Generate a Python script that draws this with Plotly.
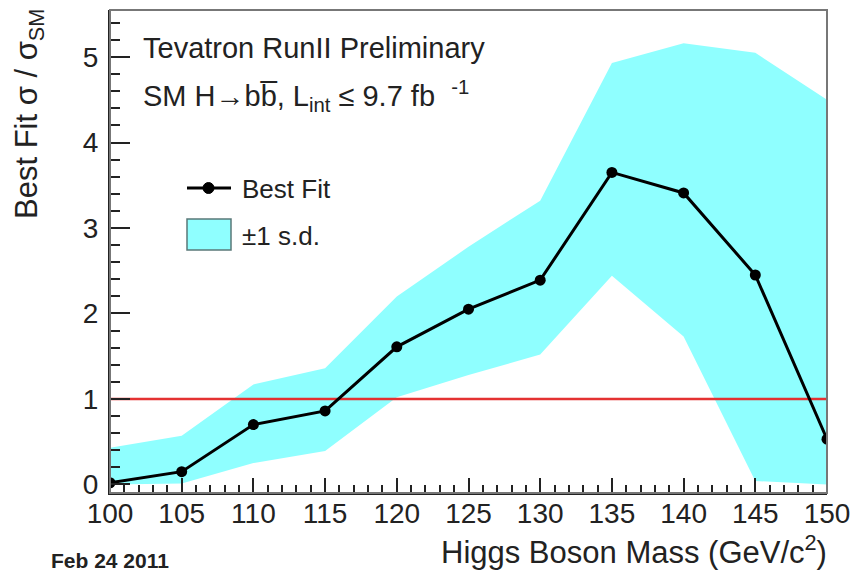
import plotly.graph_objects as go

mass = [100, 105, 110, 115, 120, 125, 130, 135, 140, 145, 150]
best_fit = [0.02, 0.15, 0.70, 0.86, 1.61, 2.05, 2.39, 3.65, 3.41, 2.45, 0.53]
band_up = [0.43, 0.57, 1.17, 1.36, 2.20, 2.78, 3.32, 4.93, 5.16, 5.05, 4.50]
band_lo = [0.00, 0.01, 0.25, 0.39, 1.02, 1.28, 1.52, 2.44, 1.73, 0.04, 0.00]
x_ticks = [100, 105, 110, 115, 120, 125, 130, 135, 140, 145, 150]
y_ticks = [0, 1, 2, 3, 4, 5]

FONT = "Liberation Sans, Arial, Helvetica, sans-serif"
CYAN = "rgb(143,255,255)"
INK = "#222"

# plot area in pixels (for placing decorations)
L, R, T, B = 110, 827, 10, 493


def px(xp):
    return (xp - L) / (R - L)


def py(yp):
    return (B - yp) / (B - T)


fig = go.Figure()

fig.add_trace(go.Scatter(
    x=mass + mass[::-1], y=band_up + band_lo[::-1],
    fill="toself", fillcolor=CYAN, line=dict(width=0),
    mode="lines", showlegend=False, hoverinfo="skip"))

fig.add_trace(go.Scatter(
    x=[mass[0], mass[-1]], y=[1, 1], mode="lines",
    line=dict(color="rgb(228,50,50)", width=2.5), showlegend=False))

fig.add_trace(go.Scatter(
    x=mass, y=best_fit, mode="lines+markers", showlegend=False,
    line=dict(color="black", width=3),
    marker=dict(color="black", size=11, symbol="circle")))

axis_font = dict(family=FONT, size=28, color=INK)

fig.update_xaxes(
    range=[100, 150], tickvals=x_ticks, ticks="inside", ticklen=15,
    tickwidth=1.5, tickcolor=INK, showgrid=False, zeroline=False,
    showline=True, linecolor=INK, linewidth=2, automargin=False,
    tickfont=axis_font, ticklabelstandoff=-6,
    minor=dict(dtick=1, ticks="inside", ticklen=8, tickwidth=1.5, tickcolor=INK))
fig.update_yaxes(
    range=[-0.1, 5.55], tickvals=y_ticks, ticks="inside", ticklen=20,
    tickwidth=1.5, tickcolor=INK, showgrid=False, zeroline=False,
    showline=True, linecolor=INK, linewidth=2, automargin=False,
    tickfont=axis_font, ticklabelstandoff=4,
    minor=dict(dtick=0.2, ticks="inside", ticklen=10, tickwidth=1.5, tickcolor=INK))

fig.add_shape(type="rect", xref="paper", yref="paper", x0=0, x1=1, y0=0, y1=1,
              line=dict(color="#777", width=2), layer="above")

# legend (drawn as decorations)
fig.add_shape(type="line", xref="paper", yref="paper",
              x0=px(187), x1=px(231), y0=py(188), y1=py(188),
              line=dict(color="black", width=3))
fig.add_shape(type="circle", xref="paper", yref="paper",
              x0=px(203), x1=px(214), y0=py(193.5), y1=py(182.5),
              line=dict(color="black", width=1), fillcolor="black")
fig.add_shape(type="rect", xref="paper", yref="paper",
              x0=px(187), x1=px(231), y0=py(250), y1=py(219),
              line=dict(color="rgb(90,120,120)", width=1.5), fillcolor=CYAN)

leg_font = dict(family=FONT, size=26, color=INK)
fig.add_annotation(xref="paper", yref="paper", x=px(240), y=py(189), xanchor="left",
                   yanchor="middle", showarrow=False, font=leg_font, text="Best Fit")
fig.add_annotation(xref="paper", yref="paper", x=px(240), y=py(236), xanchor="left",
                   yanchor="middle", showarrow=False, font=leg_font, text="±1 s.d.")

hdr_font = dict(family=FONT, size=29, color=INK)
fig.add_annotation(xref="paper", yref="paper", x=px(141), y=py(48), xanchor="left",
                   yanchor="middle", showarrow=False, font=hdr_font,
                   text="Tevatron RunII Preliminary")
fig.add_annotation(xref="paper", yref="paper", x=px(141), y=py(96), xanchor="left",
                   yanchor="middle", showarrow=False, font=hdr_font,
                   text="SM H→bb\u0305, L<sub>int</sub> ≤ 9.7 fb  <sup>-1</sup>")
fig.add_annotation(xref="paper", yref="paper", x=px(829), y=py(550), xanchor="right",
                   yanchor="middle", showarrow=False,
                   font=dict(family=FONT, size=31, color=INK),
                   text="Higgs Boson Mass (GeV/c<sup>2</sup>)")
fig.add_annotation(xref="paper", yref="paper", x=px(29), y=py(114), xanchor="center",
                   yanchor="middle", showarrow=False, textangle=-90,
                   font=dict(family=FONT, size=31, color=INK),
                   text="Best Fit σ / σ<sub>SM</sub>")
fig.add_annotation(xref="paper", yref="paper", x=px(49), y=py(560), xanchor="left",
                   yanchor="middle", showarrow=False,
                   font=dict(family=FONT, size=21, color=INK),
                   text="<b>Feb 24 2011</b>")

fig.update_layout(
    width=854, height=573,
    margin=dict(l=L, r=854 - R, t=T, b=573 - B),
    plot_bgcolor="white", paper_bgcolor="white",
    showlegend=False,
)

fig.write_html("out.html")
